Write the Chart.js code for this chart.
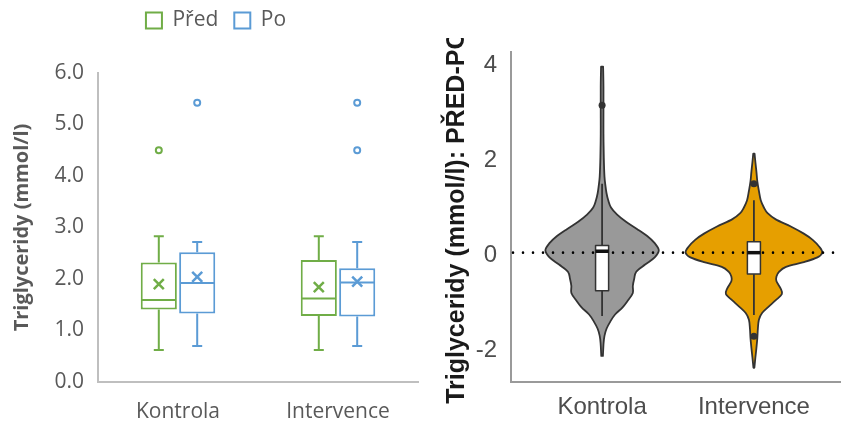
<!DOCTYPE html>
<html>
<head>
<meta charset="utf-8">
<script src="https://cdn.jsdelivr.net/npm/chart.js@4"></script>
<style>
  html, body { margin: 0; padding: 0; background: #fff; overflow: hidden; width: 841px; height: 425px; }
  #myChart1 { position: absolute; left: 0; top: 0; }
  #myChart2 { position: absolute; left: 430px; top: 38px; }
</style>
</head>
<body>
<canvas id="myChart1" width="430" height="425"></canvas>
<canvas id="myChart2" width="420" height="387"></canvas>
<script>
// groups on both panels
const groups = ['Kontrola', 'Intervence'];

// triglycerides (mmol/l) before ("Před"), one entry per group
const predMin = [0.62, 0.62];
const predQ1 = [1.41, 1.28];
const predMedian = [1.59, 1.62];
const predQ3 = [2.32, 2.37];
const predMax = [2.83, 2.83];
const predMean = [1.90, 1.84];
const predOutliers = [[4.5], []];

// triglycerides (mmol/l) after ("Po")
const poMin = [0.70, 0.70];
const poQ1 = [1.33, 1.27];
const poMedian = [1.92, 1.93];
const poQ3 = [2.52, 2.21];
const poMax = [2.72, 2.72];
const poMean = [2.04, 1.95];
const poOutliers = [[5.42], [5.42, 4.5]];

const boxTicks = [0, 1, 2, 3, 4, 5, 6];

// difference before - after: kernel density (relative) per group
const kontrolaY = [3.91, 3.5, 3.0, 2.5, 2.0, 1.6, 1.4, 1.25, 1.1, 0.95, 0.8, 0.65, 0.5, 0.35, 0.2, 0.05,
  -0.1, -0.25, -0.4, -0.55, -0.7, -0.85, -1.0, -1.15, -1.3, -1.45, -1.6, -1.75, -1.9, -2.17];
const kontrolaDensity = [0.015, 0.02, 0.02, 0.02, 0.025, 0.035, 0.05, 0.065, 0.09, 0.13, 0.22, 0.35, 0.51, 0.66, 0.77, 0.83,
  0.77, 0.63, 0.50, 0.47, 0.45, 0.45, 0.38, 0.30, 0.19, 0.12, 0.065, 0.035, 0.022, 0.012];
const intervenceY = [2.08, 1.9, 1.7, 1.5, 1.3, 1.1, 0.95, 0.83, 0.7, 0.55, 0.4, 0.27, 0.12, 0.0,
  -0.1, -0.2, -0.3, -0.4, -0.5, -0.6, -0.75, -0.87, -1.0, -1.13, -1.27, -1.41, -1.6, -1.8, -2.0, -2.2, -2.42];
const intervenceDensity = [0.01, 0.022, 0.037, 0.05, 0.073, 0.10, 0.146, 0.20, 0.32, 0.54, 0.73, 0.86, 0.96, 1.0,
  0.93, 0.73, 0.47, 0.37, 0.33, 0.33, 0.39, 0.41, 0.32, 0.22, 0.12, 0.073, 0.058, 0.05, 0.037, 0.022, 0.007];

// box inside each violin
const diffLower = [-1.33, -1.31];
const diffQ1 = [-0.80, -0.45];
const diffMedian = [0.03, 0.0];
const diffQ3 = [0.15, 0.23];
const diffUpper = [1.45, 1.10];
const diffOutliers = [[3.1], [1.45, -1.76]];
const diffTicks = [-2, 0, 2, 4];

function chart1() {
    const series = [
        { label: 'Před', color: '#70AD47', min: predMin, q1: predQ1, median: predMedian, q3: predQ3, max: predMax, mean: predMean, outliers: predOutliers },
        { label: 'Po', color: '#5B9BD5', min: poMin, q1: poQ1, median: poMedian, q3: poQ3, max: poMax, mean: poMean, outliers: poOutliers }
    ];

    // whiskers, median, mean cross and outliers on top of the floating bars
    const boxExtras = {
        id: 'boxExtras',
        afterDatasetsDraw(chart) {
            const ctx = chart.ctx;
            const y = chart.scales.y;
            series.forEach((s, di) => {
                chart.getDatasetMeta(di).data.forEach((bar, i) => {
                    const x = bar.x;
                    const half = bar.width / 2;
                    const yMax = y.getPixelForValue(s.max[i]);
                    const yMin = y.getPixelForValue(s.min[i]);
                    ctx.save();
                    ctx.strokeStyle = s.color;
                    ctx.lineWidth = 2;
                    ctx.beginPath();
                    ctx.moveTo(x, y.getPixelForValue(s.q3[i])); ctx.lineTo(x, yMax);
                    ctx.moveTo(x, y.getPixelForValue(s.q1[i])); ctx.lineTo(x, yMin);
                    ctx.moveTo(x - 5, yMax); ctx.lineTo(x + 5, yMax);
                    ctx.moveTo(x - 5, yMin); ctx.lineTo(x + 5, yMin);
                    const ym = y.getPixelForValue(s.median[i]);
                    ctx.moveTo(x - half + 1, ym); ctx.lineTo(x + half - 1, ym);
                    ctx.stroke();

                    const yc = y.getPixelForValue(s.mean[i]);
                    ctx.lineWidth = 2.5;
                    ctx.beginPath();
                    ctx.moveTo(x - 5, yc - 5); ctx.lineTo(x + 5, yc + 5);
                    ctx.moveTo(x + 5, yc - 5); ctx.lineTo(x - 5, yc + 5);
                    ctx.stroke();

                    ctx.lineWidth = 2;
                    ctx.fillStyle = '#fff';
                    s.outliers[i].forEach(v => {
                        ctx.beginPath();
                        ctx.arc(x, y.getPixelForValue(v), 3, 0, Math.PI * 2);
                        ctx.fill();
                        ctx.stroke();
                    });
                    ctx.restore();
                });
            });
        }
    };

    // fixed legend band above the plot
    const legendHeight = {
        id: 'legendHeight',
        beforeInit(chart) {
            const fit = chart.legend.fit;
            chart.legend.fit = function () {
                fit.call(this);
                this.height = 79;
            };
        }
    };

    const ctx1 = document.getElementById('myChart1').getContext('2d');
    new Chart(ctx1, {
        type: 'bar',
        data: {
            labels: groups,
            datasets: series.map(s => ({
                label: s.label,
                data: groups.map((g, i) => [s.q1[i], s.q3[i]]),
                backgroundColor: '#ffffff',
                borderColor: s.color,
                borderWidth: 2,
                borderSkipped: false,
                categoryPercentage: 0.48,
                barPercentage: 0.94
            }))
        },
        options: {
            responsive: false,
            animation: false,
            layout: { padding: { left: 14, right: 12, top: -6, bottom: 0 } },
            scales: {
                x: {
                    grid: { display: false, drawTicks: false },
                    border: { color: '#BFBFBF', width: 2 },
                    ticks: { color: '#595959', font: { family: 'Open Sans', size: 21 }, padding: 17 },
                    afterFit(scale) { scale.height = 43; }
                },
                y: {
                    min: 0,
                    max: 6,
                    afterBuildTicks(scale) { scale.ticks = boxTicks.map(v => ({ value: v })); },
                    grid: { display: false, drawTicks: false },
                    border: { color: '#BFBFBF', width: 2 },
                    ticks: {
                        color: '#595959',
                        font: { family: 'Open Sans', size: 21 },
                        padding: 14,
                        callback: v => v.toFixed(1)
                    },
                    title: {
                        display: true,
                        text: 'Triglyceridy (mmol/l)',
                        color: '#595959',
                        font: { family: 'Open Sans', size: 20, weight: 'bold' },
                        padding: { top: -4, bottom: 0 }
                    },
                    afterFit(scale) { scale.width = 84; }
                }
            },
            plugins: {
                tooltip: { enabled: false },
                legend: {
                    position: 'top',
                    align: 'center',
                    labels: {
                        color: '#595959',
                        font: { family: 'Open Sans', size: 21 },
                        boxWidth: 16,
                        boxHeight: 16,
                        padding: 16
                    }
                }
            }
        },
        plugins: [legendHeight, boxExtras]
    });
}

function chart2() {
    const violins = [
        { center: 1, ys: kontrolaY, dens: kontrolaDensity, fill: '#999999' },
        { center: 2, ys: intervenceY, dens: intervenceDensity, fill: '#E69F00' }
    ];

    // catmull-rom through pixel points
    function smooth(ctx, pts) {
        for (let i = 0; i < pts.length - 1; i++) {
            const p0 = pts[i - 1] || pts[i];
            const p1 = pts[i];
            const p2 = pts[i + 1];
            const p3 = pts[i + 2] || p2;
            ctx.bezierCurveTo(
                p1.x + (p2.x - p0.x) / 6, p1.y + (p2.y - p0.y) / 6,
                p2.x - (p3.x - p1.x) / 6, p2.y - (p3.y - p1.y) / 6,
                p2.x, p2.y
            );
        }
    }

    const violinLayer = {
        id: 'violinLayer',
        beforeDatasetsDraw(chart) {
            const ctx = chart.ctx;
            const xs = chart.scales.x;
            const ys = chart.scales.y;
            ctx.save();

            violins.forEach(v => {
                const right = v.ys.map((y, k) => ({ x: xs.getPixelForValue(v.center + 0.45 * v.dens[k]), y: ys.getPixelForValue(y) }));
                const left = v.ys.map((y, k) => ({ x: xs.getPixelForValue(v.center - 0.45 * v.dens[k]), y: ys.getPixelForValue(y) })).reverse();
                ctx.beginPath();
                ctx.moveTo(right[0].x, right[0].y);
                smooth(ctx, right);
                ctx.lineTo(left[0].x, left[0].y);
                smooth(ctx, left);
                ctx.closePath();
                ctx.fillStyle = v.fill;
                ctx.fill();
                ctx.lineWidth = 1.8;
                ctx.lineJoin = 'round';
                ctx.strokeStyle = '#333333';
                ctx.stroke();
            });

            // dotted reference line at zero
            const y0 = ys.getPixelForValue(0);
            ctx.beginPath();
            ctx.setLineDash([0, 10]);
            ctx.lineCap = 'round';
            ctx.lineWidth = 2.6;
            ctx.strokeStyle = '#000';
            ctx.moveTo(chart.chartArea.left + 2, y0);
            ctx.lineTo(chart.width, y0);
            ctx.stroke();
            ctx.setLineDash([]);
            ctx.lineCap = 'butt';

            // narrow boxplots
            groups.forEach((g, i) => {
                const cx = i + 1;
                const xc = xs.getPixelForValue(cx);
                const xl = xs.getPixelForValue(cx - 0.043);
                const xr = xs.getPixelForValue(cx + 0.043);
                const yq1 = ys.getPixelForValue(diffQ1[i]);
                const yq3 = ys.getPixelForValue(diffQ3[i]);
                ctx.strokeStyle = '#333333';
                ctx.lineWidth = 1.8;
                ctx.beginPath();
                ctx.moveTo(xc, yq3); ctx.lineTo(xc, ys.getPixelForValue(diffUpper[i]));
                ctx.moveTo(xc, yq1); ctx.lineTo(xc, ys.getPixelForValue(diffLower[i]));
                ctx.stroke();
                ctx.fillStyle = '#ffffff';
                ctx.lineWidth = 1.5;
                ctx.fillRect(xl, yq3, xr - xl, yq1 - yq3);
                ctx.strokeRect(xl, yq3, xr - xl, yq1 - yq3);
                const ym = ys.getPixelForValue(diffMedian[i]);
                ctx.lineWidth = 3.5;
                ctx.strokeStyle = '#111';
                ctx.beginPath();
                ctx.moveTo(xl, ym); ctx.lineTo(xr, ym);
                ctx.stroke();
            });
            ctx.restore();
        }
    };

    const ctx2 = document.getElementById('myChart2').getContext('2d');
    new Chart(ctx2, {
        type: 'scatter',
        data: {
            datasets: [{
                label: 'outliers',
                data: diffOutliers.flatMap((list, i) => list.map(v => ({ x: i + 1, y: v }))),
                pointRadius: 3.5,
                backgroundColor: '#333333',
                borderWidth: 0
            }]
        },
        options: {
            responsive: false,
            animation: false,
            layout: { padding: { left: 0, right: 5, top: 14, bottom: 0 } },
            scales: {
                x: {
                    type: 'linear',
                    min: 0.4,
                    max: 2.6,
                    afterBuildTicks(scale) { scale.ticks = groups.map((g, i) => ({ value: i + 1 })); },
                    grid: { display: false, drawTicks: false },
                    border: { color: '#9A9A9A', width: 2 },
                    ticks: {
                        color: '#4D4D4D',
                        font: { family: 'Liberation Sans', size: 24 },
                        padding: 11,
                        callback: v => groups[v - 1]
                    },
                    afterFit(scale) { scale.height = 43; }
                },
                y: {
                    min: -2.72,
                    max: 4.22,
                    afterBuildTicks(scale) { scale.ticks = diffTicks.map(v => ({ value: v })); },
                    grid: { display: false, drawTicks: false },
                    border: { color: '#9A9A9A', width: 2 },
                    ticks: {
                        color: '#4D4D4D',
                        font: { family: 'Liberation Sans', size: 24 },
                        padding: 14,
                        labelOffset: 3,
                        callback: v => String(v)
                    },
                    title: {
                        display: true,
                        text: 'Triglyceridy (mmol/l): PŘED-PO',
                        color: '#1A1A1A',
                        font: { family: 'Liberation Sans', size: 25, weight: 'bold' },
                        padding: { top: 12, bottom: 0 }
                    },
                    afterFit(scale) {
                        scale.width = 81;
                        scale.paddingTop = 0;
                        scale.paddingBottom = 0;
                    }
                }
            },
            plugins: {
                tooltip: { enabled: false },
                legend: { display: false }
            }
        },
        plugins: [violinLayer]
    });
}

chart1();
chart2();
</script>
</body>
</html>
